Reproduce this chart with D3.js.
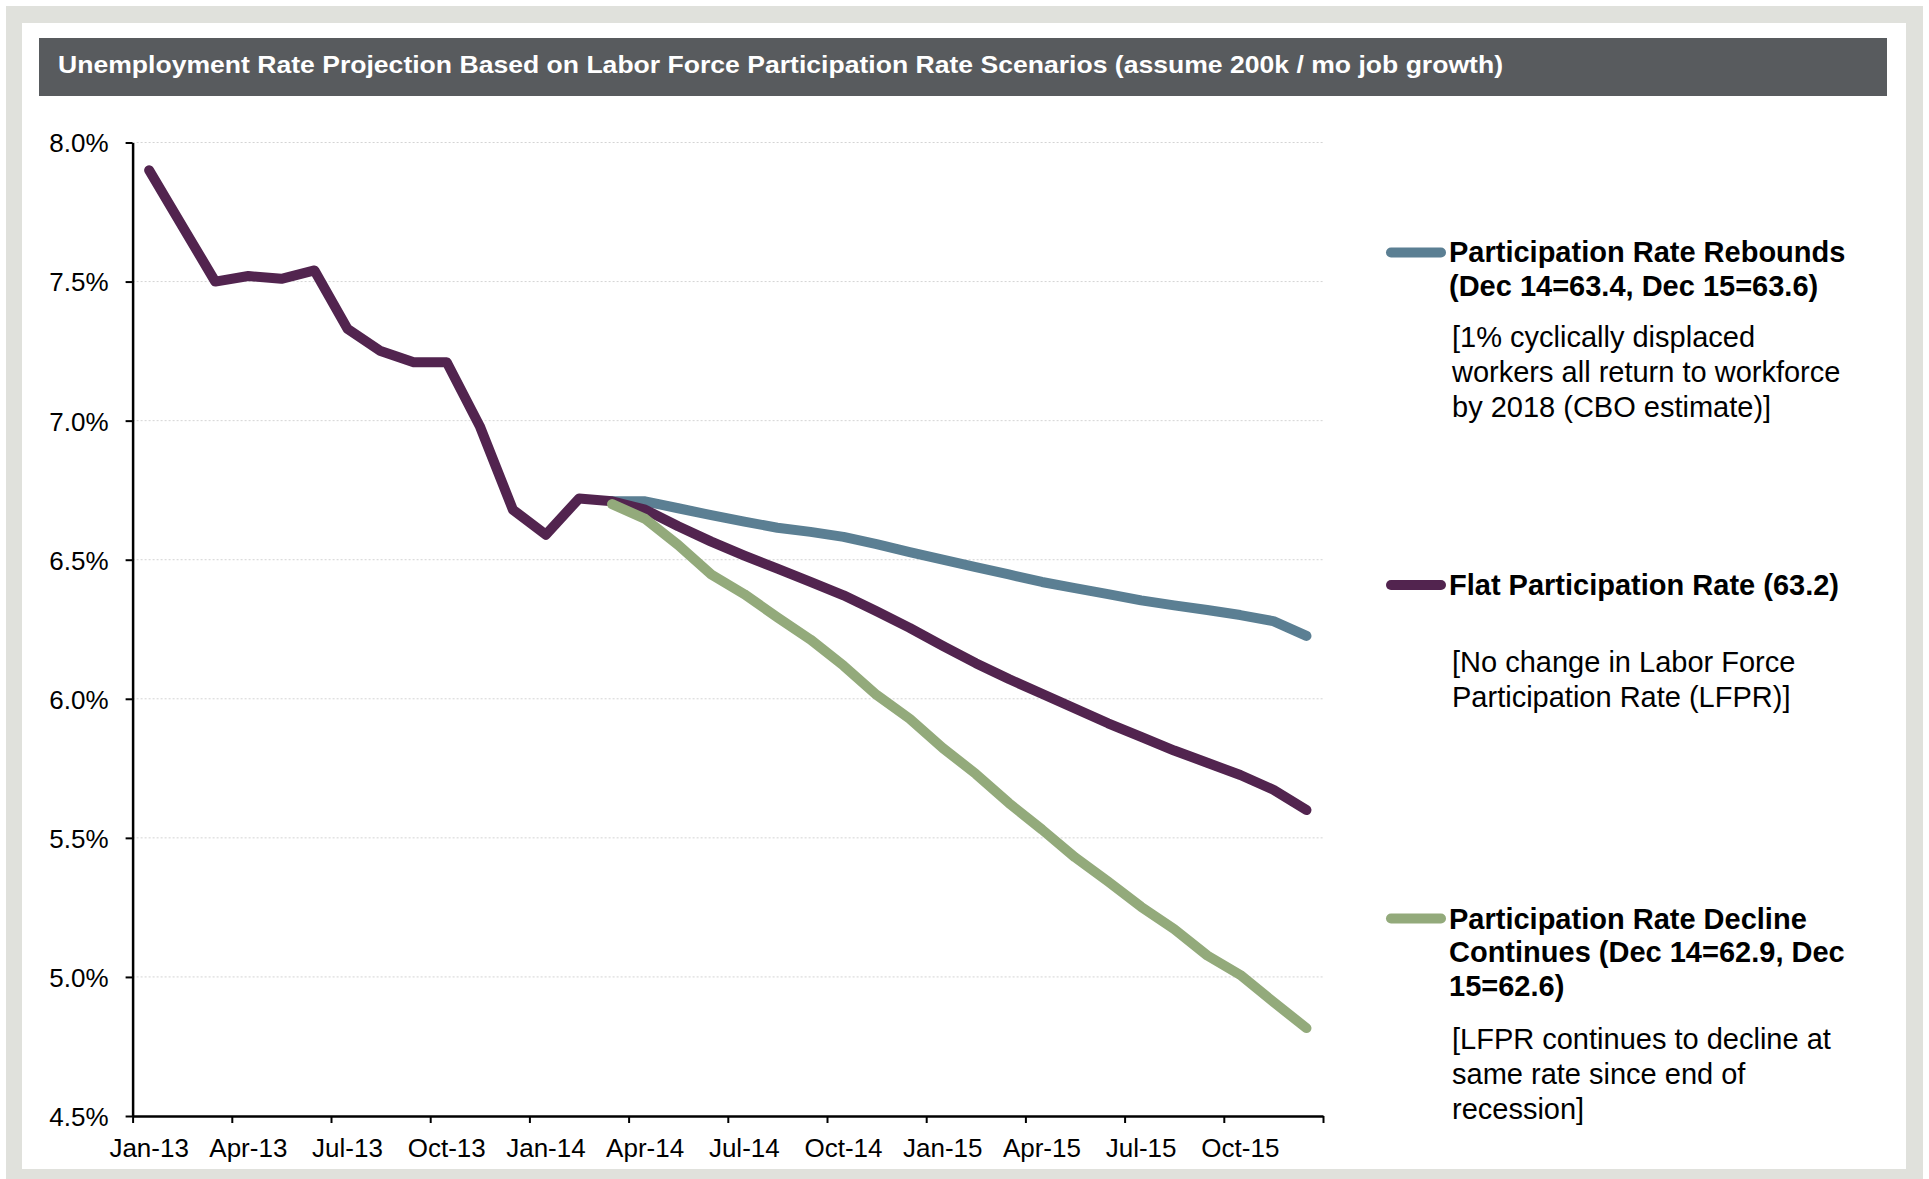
<!DOCTYPE html>
<html>
<head>
<meta charset="utf-8">
<script src="https://cdn.jsdelivr.net/npm/d3@7"></script>
<style>
  html, body { margin: 0; padding: 0; background: #ffffff; }
  svg { display: block; font-family: "Liberation Sans", Arial, sans-serif; }
</style>
</head>
<body>
<svg id="chart" width="1929" height="1179"></svg>
<script>
// ---------------- DATA ----------------
const titleText = "Unemployment Rate Projection Based on Labor Force Participation Rate Scenarios (assume 200k / mo job growth)";

const months = [
  "Jan-13","Feb-13","Mar-13","Apr-13","May-13","Jun-13","Jul-13","Aug-13","Sep-13","Oct-13","Nov-13","Dec-13",
  "Jan-14","Feb-14","Mar-14","Apr-14","May-14","Jun-14","Jul-14","Aug-14","Sep-14","Oct-14","Nov-14","Dec-14",
  "Jan-15","Feb-15","Mar-15","Apr-15","May-15","Jun-15","Jul-15","Aug-15","Sep-15","Oct-15","Nov-15","Dec-15"
];

const xTickLabels = ["Jan-13","Apr-13","Jul-13","Oct-13","Jan-14","Apr-14","Jul-14","Oct-14","Jan-15","Apr-15","Jul-15","Oct-15"];
const yTickValues = [4.5, 5.0, 5.5, 6.0, 6.5, 7.0, 7.5, 8.0];

// Flat participation rate (history through Mar-14, then projection)
const flatRate = [7.90, 7.70, 7.50, 7.52, 7.51, 7.54, 7.33, 7.25, 7.21, 7.21, 6.98, 6.68,
                  6.59, 6.72, 6.71, 6.68, 6.62, 6.565, 6.515, 6.468, 6.42, 6.372, 6.315, 6.255,
                  6.19, 6.128, 6.071, 6.018, 5.965, 5.912, 5.863, 5.814, 5.77, 5.726, 5.673, 5.60];

const reboundRate = [null, null, null, null, null, null, null, null, null, null, null, null,
                     null, null, 6.71, 6.71, 6.685, 6.66, 6.637, 6.615, 6.60, 6.582, 6.556, 6.527,
                     6.50, 6.473, 6.447, 6.42, 6.398, 6.376, 6.354, 6.336, 6.319, 6.301, 6.279, 6.226];

const declineRate = [null, null, null, null, null, null, null, null, null, null, null, null,
                     null, null, 6.70, 6.647, 6.553, 6.447, 6.376, 6.293, 6.213, 6.119, 6.014, 5.928,
                     5.823, 5.73, 5.625, 5.53, 5.43, 5.343, 5.252, 5.172, 5.077, 5.007, 4.91, 4.816];

const legendTitles = [
  ["Participation Rate Rebounds", "(Dec 14=63.4, Dec 15=63.6)"],
  ["Flat Participation Rate (63.2)"],
  ["Participation Rate Decline", "Continues (Dec 14=62.9, Dec", "15=62.6)"]
];
const legendNotes = [
  ["[1% cyclically displaced", "workers all return to workforce", "by 2018 (CBO estimate)]"],
  ["[No change in Labor Force", "Participation Rate (LFPR)]"],
  ["[LFPR continues to decline at", "same rate since end of", "recession]"]
];

// ---------------- STYLE ----------------
const colors = { rebound: "#5b7f93", flat: "#52244f", decline: "#93aa7b" };

const svg = d3.select("#chart");

// frame
svg.append("rect").attr("x", 6).attr("y", 6).attr("width", 1917).attr("height", 1180).attr("fill", "#e0e1dc");
svg.append("rect").attr("x", 22).attr("y", 23).attr("width", 1884).attr("height", 1146).attr("fill", "#ffffff");

// title bar
svg.append("rect").attr("x", 39).attr("y", 38).attr("width", 1848).attr("height", 58).attr("fill", "#585b5e");
svg.append("text")
  .attr("x", 58).attr("y", 72.5)
  .attr("fill", "#ffffff")
  .attr("font-weight", "bold")
  .attr("font-size", 24)
  .attr("textLength", 1445)
  .attr("lengthAdjust", "spacingAndGlyphs")
  .text(titleText);

// scales
const x = d3.scaleLinear().domain([0, months.length]).range([132.6, 1323]);
const y = d3.scaleLinear().domain([4.5, 8.0]).range([1116, 142.5]);

// gridlines
svg.append("g")
  .selectAll("line")
  .data(yTickValues.filter(v => v > 4.5))
  .join("line")
  .attr("x1", x(0)).attr("x2", x(months.length))
  .attr("y1", d => y(d)).attr("y2", d => y(d))
  .attr("stroke", "#d4d4d4")
  .attr("stroke-width", 1)
  .attr("stroke-dasharray", "2,2");

// y axis
const yAxis = svg.append("g")
  .attr("transform", `translate(${x(0)},0)`)
  .call(d3.axisLeft(y).tickValues(yTickValues).tickFormat(d => d.toFixed(1) + "%").tickSize(7).tickPadding(17).tickSizeOuter(0));
yAxis.select(".domain").attr("stroke", "#000").attr("stroke-width", 2.5);
yAxis.selectAll(".tick line").attr("stroke", "#000").attr("stroke-width", 2);
yAxis.selectAll(".tick text")
  .attr("font-size", 26).attr("fill", "#000")
  .attr("font-family", "Liberation Sans, Arial, sans-serif")
  .attr("dy", "0.36em");

// x axis
const xAxis = svg.append("g")
  .attr("transform", `translate(0,${y(4.5)})`)
  .call(d3.axisBottom(x).tickValues(d3.range(0, months.length + 1, 3)).tickFormat("").tickSize(7).tickSizeOuter(0));
xAxis.select(".domain").attr("stroke", "#000").attr("stroke-width", 2.5);
xAxis.selectAll(".tick line").attr("stroke", "#000").attr("stroke-width", 2);

svg.append("g")
  .selectAll("text")
  .data(xTickLabels)
  .join("text")
  .attr("x", d => x(months.indexOf(d) + 0.5))
  .attr("y", y(4.5) + 41)
  .attr("text-anchor", "middle")
  .attr("font-size", 26)
  .attr("fill", "#000")
  .text(d => d);

// lines
const line = d3.line()
  .defined(d => d != null)
  .x((d, i) => x(i + 0.5))
  .y(d => y(d));

const series = [
  { key: "rebound", values: reboundRate },
  { key: "flat", values: flatRate },
  { key: "decline", values: declineRate }
];

svg.append("g")
  .selectAll("path")
  .data(series)
  .join("path")
  .attr("d", s => line(s.values))
  .attr("fill", "none")
  .attr("stroke", s => colors[s.key])
  .attr("stroke-width", 10)
  .attr("stroke-linejoin", "round")
  .attr("stroke-linecap", "round");

// legend
const legendKeys = ["rebound", "flat", "decline"];
const legendSwatchY = [252.5, 585, 918.5];
const legendTitleY = [262, 595, 928.5];
const legendNoteY = [347, 672, 1048.5];
const titleLineH = 33.5;
const noteLineH = 35;

legendKeys.forEach((k, i) => {
  const g = svg.append("g");
  g.append("line")
    .attr("x1", 1391).attr("x2", 1441)
    .attr("y1", legendSwatchY[i]).attr("y2", legendSwatchY[i])
    .attr("stroke", colors[k]).attr("stroke-width", 10).attr("stroke-linecap", "round");
  legendTitles[i].forEach((t, j) => {
    g.append("text")
      .attr("x", 1449).attr("y", legendTitleY[i] + j * titleLineH)
      .attr("font-size", 29).attr("font-weight", "bold").attr("fill", "#000")
      .text(t);
  });
  legendNotes[i].forEach((t, j) => {
    g.append("text")
      .attr("x", 1452).attr("y", legendNoteY[i] + j * noteLineH)
      .attr("font-size", 29).attr("fill", "#000")
      .text(t);
  });
});
</script>
</body>
</html>
